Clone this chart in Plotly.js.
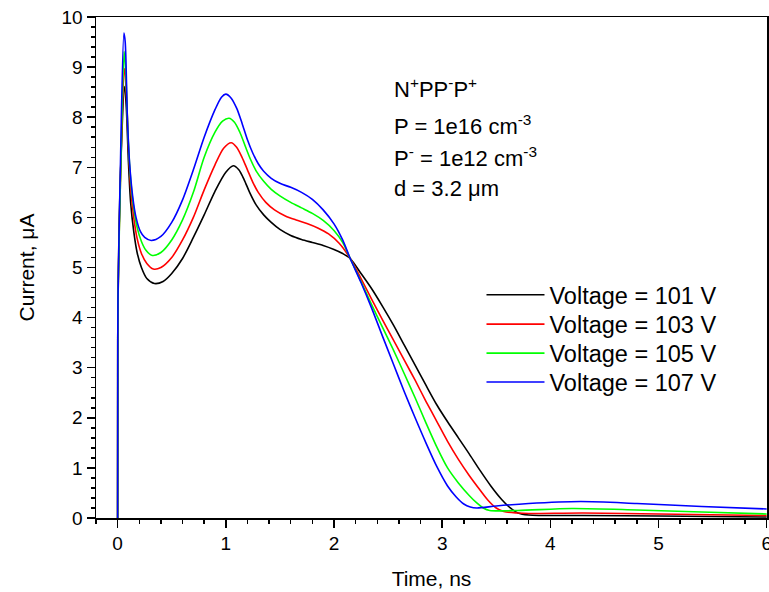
<!DOCTYPE html>
<html>
<head>
<meta charset="utf-8">
<script src="https://cdn.plot.ly/plotly-3.0.1.min.js"></script>
<style>html,body{margin:0;padding:0;background:#fff;}#chart{width:769px;height:592px;}</style>
</head>
<body>
<div id="chart"></div>
<script>
// Voltage = 101 V
const t101 = [0, 0.001, 0.003, 0.03, 0.065, 0.08, 0.1, 0.12, 0.15, 0.18, 0.22, 0.27, 0.34, 0.42, 0.5, 0.6, 0.7, 0.8, 0.9, 1.0, 1.07, 1.12, 1.17, 1.22, 1.28, 1.35, 1.42, 1.5, 1.6, 1.7, 1.8, 1.9, 2.0, 2.08, 2.15, 2.25, 2.35, 2.45, 2.55, 2.65, 2.75, 2.85, 2.95, 3.05, 3.15, 3.25, 3.35, 3.45, 3.55, 3.63, 3.7, 3.8, 4.3, 5.0, 6.0];
const i101 = [0, 2.8, 4.3, 7.1, 8.61, 8.2, 7.1, 6.3, 5.7, 5.3, 5.0, 4.78, 4.68, 4.72, 4.88, 5.18, 5.6, 6.05, 6.52, 6.9, 7.03, 6.95, 6.75, 6.5, 6.25, 6.05, 5.9, 5.76, 5.64, 5.56, 5.5, 5.44, 5.36, 5.28, 5.18, 4.88, 4.57, 4.22, 3.85, 3.45, 3.05, 2.65, 2.26, 1.92, 1.6, 1.28, 0.95, 0.64, 0.37, 0.2, 0.1, 0.06, 0.05, 0.04, 0.02];
// Voltage = 103 V
const t103 = [0, 0.001, 0.003, 0.03, 0.063, 0.08, 0.1, 0.12, 0.15, 0.18, 0.22, 0.27, 0.33, 0.4, 0.5, 0.6, 0.7, 0.8, 0.9, 0.98, 1.05, 1.1, 1.15, 1.2, 1.25, 1.3, 1.37, 1.45, 1.55, 1.65, 1.75, 1.85, 1.95, 2.05, 2.15, 2.25, 2.35, 2.45, 2.55, 2.65, 2.75, 2.85, 2.95, 3.05, 3.15, 3.25, 3.35, 3.43, 3.5, 3.57, 3.7, 3.8, 4.3, 5.0, 6.0];
const i103 = [0, 2.8, 4.3, 7.1, 8.97, 8.5, 7.4, 6.6, 5.98, 5.58, 5.28, 5.08, 4.97, 5.0, 5.2, 5.55, 6.0, 6.55, 7.05, 7.38, 7.49, 7.4, 7.2, 6.95, 6.7, 6.5, 6.3, 6.15, 6.03, 5.95, 5.88, 5.79, 5.67, 5.48, 5.18, 4.78, 4.36, 3.95, 3.55, 3.15, 2.75, 2.33, 1.93, 1.53, 1.17, 0.85, 0.56, 0.34, 0.2, 0.13, 0.1, 0.09, 0.10, 0.08, 0.05];
// Voltage = 105 V
const t105 = [0, 0.001, 0.003, 0.03, 0.06, 0.075, 0.095, 0.115, 0.145, 0.18, 0.22, 0.26, 0.32, 0.4, 0.5, 0.6, 0.7, 0.8, 0.9, 0.97, 1.03, 1.08, 1.13, 1.18, 1.23, 1.28, 1.35, 1.42, 1.5, 1.6, 1.7, 1.8, 1.9, 2.0, 2.08, 2.15, 2.25, 2.35, 2.45, 2.55, 2.65, 2.75, 2.85, 2.95, 3.05, 3.15, 3.25, 3.32, 3.38, 3.44, 3.7, 4.2, 4.8, 5.4, 6.0];
const i105 = [0, 2.8, 4.3, 7.1, 9.31, 8.9, 7.7, 6.9, 6.25, 5.8, 5.52, 5.35, 5.24, 5.3, 5.55, 5.95, 6.5, 7.2, 7.7, 7.92, 7.98, 7.9, 7.7, 7.42, 7.15, 6.93, 6.72, 6.56, 6.43, 6.3, 6.19, 6.08, 5.94, 5.74, 5.5, 5.18, 4.72, 4.25, 3.8, 3.35, 2.88, 2.4, 1.9, 1.42, 1.0, 0.7, 0.45, 0.3, 0.2, 0.15, 0.15, 0.19, 0.16, 0.12, 0.08];
// Voltage = 107 V
const t107 = [0, 0.001, 0.003, 0.028, 0.058, 0.07, 0.09, 0.11, 0.14, 0.17, 0.21, 0.25, 0.31, 0.4, 0.5, 0.6, 0.7, 0.8, 0.9, 0.96, 1.0, 1.05, 1.1, 1.15, 1.2, 1.25, 1.3, 1.35, 1.42, 1.5, 1.6, 1.7, 1.8, 1.9, 2.0, 2.08, 2.15, 2.25, 2.35, 2.45, 2.55, 2.65, 2.75, 2.85, 2.95, 3.05, 3.13, 3.2, 3.26, 3.32, 3.5, 3.8, 4.28, 4.8, 5.4, 6.0];
const i107 = [0, 2.8, 4.35, 7.28, 9.68, 9.5, 8.0, 7.1, 6.4, 6.0, 5.72, 5.6, 5.54, 5.62, 5.9, 6.35, 6.95, 7.6, 8.15, 8.4, 8.46, 8.38, 8.18, 7.88, 7.55, 7.28, 7.07, 6.92, 6.78, 6.68, 6.6, 6.5, 6.36, 6.15, 5.87, 5.55, 5.18, 4.7, 4.18, 3.62, 3.07, 2.52, 2.0, 1.5, 1.03, 0.64, 0.42, 0.28, 0.22, 0.2, 0.24, 0.29, 0.33, 0.29, 0.23, 0.18];

const seriesNames = ["Voltage = 101 V", "Voltage = 103 V", "Voltage = 105 V", "Voltage = 107 V"];
const seriesColors = ["#000000", "#ff0000", "#00ff00", "#0000ff"];
const xs = [t101, t103, t105, t107];
const ys = [i101, i103, i105, i107];

const infoLines = ["N<sup>+</sup>PP<sup>-</sup>P<sup>+</sup>", "P = 1e16 cm<sup>-3</sup>", "P<sup>-</sup> = 1e12 cm<sup>-3</sup>", "d = 3.2 \u03bcm"];

const legendIds = ["legend", "legend2", "legend3", "legend4"];
const traces = xs.map((x, k) => ({
  x: x, y: ys[k], name: seriesNames[k], type: "scatter", mode: "lines",
  legend: legendIds[k],
  line: {color: seriesColors[k], width: 1.6, shape: "spline", smoothing: 0.8}
}));

const font = "Liberation Sans, Arial, sans-serif";
const infoY = [0.8573, 0.785, 0.7212, 0.6577];
const annotations = infoLines.map((s, k) => ({
  text: s, xref: "paper", yref: "paper", x: 0.4404, y: infoY[k],
  xanchor: "left", yanchor: "middle", showarrow: false,
  font: {family: font, size: 22, color: "#000"}
}));

const axisCommon = {
  showline: true, linecolor: "#000", linewidth: 1.5, mirror: true,
  ticks: "outside", ticklen: 8, tickwidth: 1.5, tickcolor: "#000",
  showgrid: false, zeroline: false, ticklabeloverflow: "allow",
  tickfont: {family: font, size: 19, color: "#000"}
};

const legendY = [0.4451, 0.3866, 0.3287, 0.2709];
function legendBox(k) {
  return {x: 0.5745, y: legendY[k], xanchor: "left", yanchor: "middle",
    font: {family: font, size: 23.5, color: "#000"}, bgcolor: "rgba(0,0,0,0)",
    itemwidth: 58};
}

const layout = {
  width: 769, height: 592,
  margin: {l: 96, r: 2, t: 17, b: 74},
  paper_bgcolor: "#fff", plot_bgcolor: "#fff",
  showlegend: true,
  legend: legendBox(0), legend2: legendBox(1), legend3: legendBox(2), legend4: legendBox(3),
  xaxis: Object.assign({}, axisCommon, {
    range: [-0.2, 6.003], tickvals: [0, 1, 2, 3, 4, 5, 6],
    minor: {tickvals: [-0.2,0.2,0.4,0.6,0.8,1.2,1.4,1.6,1.8,2.2,2.4,2.6,2.8,3.2,3.4,3.6,3.8,4.2,4.4,4.6,4.8,5.2,5.4,5.6,5.8], ticks: "outside", ticklen: 4, tickwidth: 1.5, tickcolor: "#000"},
    title: {text: "Time, ns", font: {family: font, size: 21, color: "#000"}, standoff: 18}
  }),
  yaxis: Object.assign({}, axisCommon, {
    range: [0, 10], dtick: 1, tick0: 0,
    minor: {dtick: 0.2, ticks: "outside", ticklen: 4, tickwidth: 1.5, tickcolor: "#000"},
    title: {text: "Current, \u03bcA", font: {family: font, size: 21, color: "#000"}, standoff: 21}
  }),
  annotations: annotations
};

Plotly.newPlot("chart", traces, layout, {displayModeBar: false, staticPlot: true});
</script>
</body>
</html>
